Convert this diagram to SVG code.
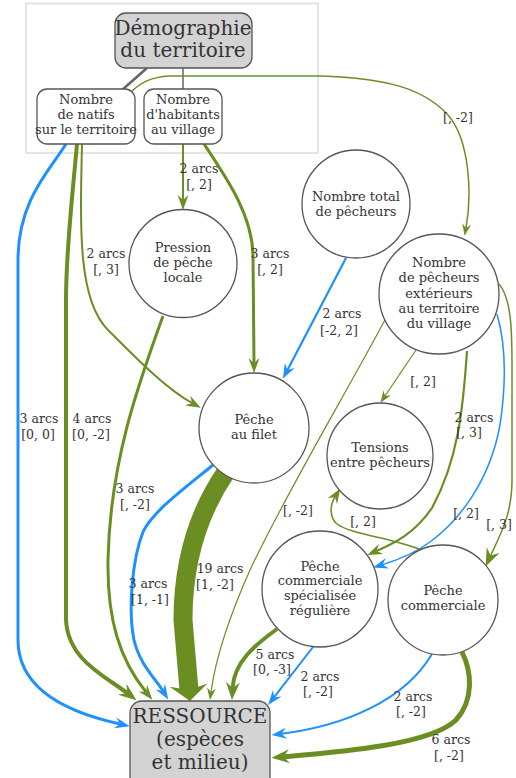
<svg xmlns="http://www.w3.org/2000/svg" width="516" height="778" viewBox="0 0 516 778">
<style>
.nd{fill:#fff;stroke:#555;stroke-width:1.3}
.gr{fill:#d3d3d3;stroke:#555;stroke-width:1.3}
.t{font-family:"DejaVu Serif","Liberation Serif",serif;font-size:13px;fill:#333;text-anchor:middle}
.big{font-size:20px}
.lb{font-family:"DejaVu Serif","Liberation Serif",serif;font-size:12.5px;fill:#333;text-anchor:middle}
.e{fill:none}
.g{stroke:#6b8e23}
.b{stroke:#1e90ff}
</style>
<defs>
<marker id="gS" markerUnits="userSpaceOnUse" orient="auto" refX="0" refY="0" markerWidth="1" markerHeight="1" overflow="visible"><path d="M-4,-4.5L8,0L-4,4.5L0,0Z" fill="#6b8e23"/></marker>
<marker id="gM" markerUnits="userSpaceOnUse" orient="auto" refX="0" refY="0" markerWidth="1" markerHeight="1" overflow="visible"><path d="M-5,-5.5L10,0L-5,5.5L0,0Z" fill="#6b8e23"/></marker>
<marker id="gL" markerUnits="userSpaceOnUse" orient="auto" refX="0" refY="0" markerWidth="1" markerHeight="1" overflow="visible"><path d="M-6,-7L12,0L-6,7L0,0Z" fill="#6b8e23"/></marker>
<marker id="gX" markerUnits="userSpaceOnUse" orient="auto" refX="0" refY="0" markerWidth="1" markerHeight="1" overflow="visible"><path d="M-5,-19L11,0L-5,19L0,0Z" fill="#6b8e23"/></marker>
<marker id="bS" markerUnits="userSpaceOnUse" orient="auto" refX="0" refY="0" markerWidth="1" markerHeight="1" overflow="visible"><path d="M-4,-4.5L8,0L-4,4.5L0,0Z" fill="#1e90ff"/></marker>
<marker id="bM" markerUnits="userSpaceOnUse" orient="auto" refX="0" refY="0" markerWidth="1" markerHeight="1" overflow="visible"><path d="M-5,-5.5L10,0L-5,5.5L0,0Z" fill="#1e90ff"/></marker>
</defs>
<rect id="cluster" x="26" y="3.5" width="292" height="149.5" fill="#fff" stroke="#ddd" stroke-width="1.5"/>
<g id="connectors">
<path class="e" d="M147,68L122,90" stroke="#666" stroke-width="2.6"/>
<path class="e" d="M183,68L183,90" stroke="#666" stroke-width="1.5"/>
<path class="e g" stroke-width="1.5" marker-end="url(#gS)" d="M130,93C140,83 150,77 170,76L320,76C390,78 425,90 448,115C470,140 472,195 466,228"/>
<path class="e g" stroke-width="2" marker-end="url(#gM)" d="M183,144L183,200"/>
<path class="e g" stroke-width="3" marker-end="url(#gM)" d="M204,144C228,180 252,215 253,255L254,363"/>
<path class="e g" stroke-width="2" marker-end="url(#gM)" d="M82,144C80,230 78,300 108,330C135,357 165,388 192,403"/>
<path class="e b" stroke-width="3" marker-end="url(#bM)" d="M66,144C50,170 18,200 18,260L18,640C18,690 70,713 120,724"/>
<path class="e g" stroke-width="4" marker-end="url(#gL)" d="M77,144C72,200 66,250 66,300L66,620C68,660 105,676 127,693"/>
<path class="e g" stroke-width="3" marker-end="url(#gM)" d="M163,316C140,380 110,460 108,560C107,620 120,660 146,692"/>
<path class="e b" stroke-width="2.2" marker-end="url(#bM)" d="M346,258L287.5,370"/>
<path class="e b" stroke-width="3" marker-end="url(#bM)" d="M213,465C185,488 152,512 143,532C132,560 128,610 134,640C140,665 155,678 163,691"/>
<path class="e g" stroke-width="19" marker-end="url(#gX)" d="M226,472C200,510 183,560 183,620L189,690"/>
<path class="e g" stroke-width="1.2" marker-end="url(#gS)" d="M386,318C345,395 285,495 250,570C230,615 216,655 211,692"/>
<path class="e g" stroke-width="1.2" marker-end="url(#gS)" d="M416,350L385,396"/>
<path class="e g" stroke-width="2.2" marker-end="url(#gM)" d="M467,351C463,410 458,460 432,508C415,533 395,543 376.5,551"/>
<path class="e b" stroke-width="1.5" marker-end="url(#bM)" d="M497,314C506,345 506,385 500,425C490,480 460,520 430,542C415,553 398,560 382.6,564.6"/>
<path class="e g" stroke-width="1.5" marker-end="url(#gL)" d="M499,284C513,300 512,340 512,380L512,480C512,515 500,535 490.6,555.6"/>
<path class="e g" stroke-width="1.5" marker-end="url(#gM)" d="M424,551C395,538 352,535 337,524C329,517 330,505 335,497"/>
<path class="e g" stroke-width="4" marker-end="url(#gL)" d="M277,629C255,645 234,662 232.6,688"/>
<path class="e b" stroke-width="2" marker-end="url(#bM)" d="M313,647L274.2,697.2"/>
<path class="e b" stroke-width="2" marker-end="url(#bM)" d="M432,654C405,700 345,726 281.5,733.8"/>
<path class="e g" stroke-width="5" marker-end="url(#gL)" d="M462,652C472,672 474,700 456,720C430,745 340,752 283.5,756.8"/>
<g id="labels">
<text class="lb" x="458" y="122">[, -2]</text>
<text class="lb" x="199" y="173">2 arcs</text><text class="lb" x="199" y="189">[, 2]</text>
<text class="lb" x="106" y="258">2 arcs</text><text class="lb" x="106" y="274">[, 3]</text>
<text class="lb" x="270" y="258">3 arcs</text><text class="lb" x="270" y="274">[, 2]</text>
<text class="lb" x="342" y="318">2 arcs</text><text class="lb" x="339" y="335">[-2, 2]</text>
<text class="lb" x="39" y="423">3 arcs</text><text class="lb" x="38" y="439">[0, 0]</text>
<text class="lb" x="92" y="423">4 arcs</text><text class="lb" x="91" y="439">[0, -2]</text>
<text class="lb" x="135" y="493">3 arcs</text><text class="lb" x="135" y="509">[, -2]</text>
<text class="lb" x="148" y="588">3 arcs</text><text class="lb" x="150" y="604">[1, -1]</text>
<text class="lb" x="220" y="573">19 arcs</text><text class="lb" x="215" y="589">[1, -2]</text>
<text class="lb" x="423" y="386">[, 2]</text>
<text class="lb" x="474" y="422">2 arcs</text><text class="lb" x="469" y="437">[, 3]</text>
<text class="lb" x="298" y="515">[, -2]</text>
<text class="lb" x="363" y="526">[, 2]</text>
<text class="lb" x="466" y="518">[, 2]</text>
<text class="lb" x="499" y="529">[, 3]</text>
<text class="lb" x="275" y="659">5 arcs</text><text class="lb" x="272" y="674">[0, -3]</text>
<text class="lb" x="320" y="681">2 arcs</text><text class="lb" x="318" y="696">[, -2]</text>
<text class="lb" x="413" y="701">2 arcs</text><text class="lb" x="411" y="716">[, -2]</text>
<text class="lb" x="451" y="744">6 arcs</text><text class="lb" x="449" y="760">[, -2]</text>
</g>
</g>
<g id="demographie"><rect class="gr" x="115" y="13" width="137" height="55" rx="11"/><text class="t big" x="183" y="35">Démographie</text><text class="t big" x="183" y="57">du territoire</text></g>
<g id="natifs"><rect class="nd" x="37" y="89" width="98" height="55" rx="10"/><text class="t" x="86" y="104">Nombre</text><text class="t" x="86" y="119">de natifs</text><text class="t" x="86" y="134">sur le territoire</text></g>
<g id="habitants"><rect class="nd" x="144" y="89" width="78" height="55" rx="10"/><text class="t" x="183" y="104">Nombre</text><text class="t" x="183" y="119">d'habitants</text><text class="t" x="183" y="134">au village</text></g>
<g id="pression"><circle class="nd" cx="183" cy="263.5" r="54"/><text class="t" x="183" y="252">Pression</text><text class="t" x="183" y="267">de pêche</text><text class="t" x="183" y="282">locale</text></g>
<g id="total"><circle class="nd" cx="356" cy="204" r="54"/><text class="t" x="356" y="201">Nombre total</text><text class="t" x="356" y="216">de pêcheurs</text></g>
<g id="exterieurs"><circle class="nd" cx="439" cy="294" r="60"/><text class="t" x="439" y="267">Nombre</text><text class="t" x="439" y="282">de pêcheurs</text><text class="t" x="439" y="298">extérieurs</text><text class="t" x="439" y="313">au territoire</text><text class="t" x="439" y="328">du village</text></g>
<g id="filet"><circle class="nd" cx="254" cy="428" r="55"/><text class="t" x="254" y="424">Pêche</text><text class="t" x="254" y="439">au filet</text></g>
<g id="tensions"><circle class="nd" cx="380" cy="456" r="53"/><text class="t" x="380" y="452">Tensions</text><text class="t" x="380" y="467">entre pêcheurs</text></g>
<g id="specialisee"><circle class="nd" cx="320" cy="589" r="58"/><text class="t" x="320" y="571">Pêche</text><text class="t" x="320" y="585">commerciale</text><text class="t" x="320" y="600">spécialisée</text><text class="t" x="320" y="615">régulière</text></g>
<g id="commerciale"><circle class="nd" cx="443" cy="600" r="55"/><text class="t" x="443" y="595">Pêche</text><text class="t" x="443" y="610">commerciale</text></g>
<g id="ressource"><rect class="gr" x="130" y="701" width="140" height="95" rx="12"/><text class="t big" x="200" y="723">RESSOURCE</text><text class="t big" x="200" y="746">(espèces</text><text class="t big" x="200" y="769">et milieu)</text></g>
</svg>
